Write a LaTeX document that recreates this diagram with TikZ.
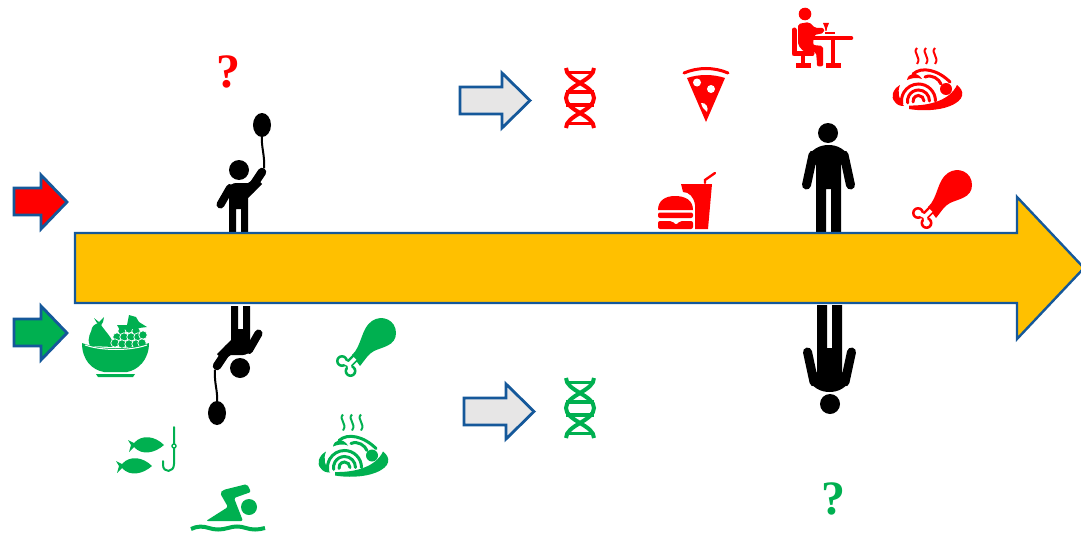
\documentclass[tikz,border=0pt]{standalone}
\usepackage{fontspec}
\setmainfont{Liberation Serif}
\definecolor{barblue}{HTML}{15589A}
\definecolor{baryellow}{HTML}{FFC000}
\definecolor{arrowgrey}{HTML}{E7E6E6}
\definecolor{icgreen}{HTML}{00B050}
\definecolor{icred}{HTML}{FF0000}
\tikzset{
  barrow/.style={draw=barblue,line width=2.8pt,line join=miter},
  limb/.style={black,line cap=round},
  qmark/.style={inner sep=0pt,font=\fontsize{48}{48}\selectfont\bfseries},
  strand/.style={line width=4pt,line cap=butt},
}
% ---- icons, drawn in the coordinates of their red copies; colour "ic"
\newcommand{\ChickenIcon}{%
  \fill[ic] (928,207) .. controls (938,198) and (937,180) .. (948,173)
     .. controls (958,166) and (972,172) .. (972,185)
     .. controls (972,198) and (958,199) .. (950,203)
     .. controls (944,206) and (941,212) .. (936,218) -- cycle;
  \fill[ic] (918,213) circle (6) (926.5,223) circle (6);
  \draw[ic,line width=8pt] (922,219) -- (932,209);
  \fill[white] (918,213) circle (3.4) (926.5,223) circle (3.4);
  \draw[white,line width=3.6pt] (918,213) -- (925,216.5) -- (926.5,223) (925,216.5) -- (931,210.5);
}
\newcommand{\PastaIcon}{%
  \fill[ic] (900,85) .. controls (893,89) and (890,97) .. (895,102) .. controls (897,105) and (900,106) .. (904,106) .. controls (899,100) and (897,92) .. (900,85) -- cycle;
  \fill[ic] (909,105.5) .. controls (930,106) and (950,100) .. (957,85) .. controls (965,91) and (965,100) .. (950,106) .. controls (938,111) and (920,111) .. (909,109) -- cycle;
  \foreach \r in {5.5,11,17}{
    \draw[ic,line width=3pt,line cap=round] (918.5+\r,101) arc (0:-190:\r);
  }
  \draw[ic,line width=3pt,line cap=round] (913,74) .. controls (922,66) and (938,70) .. (950,82);
  \draw[ic,line width=3pt,line cap=round] (925,77) .. controls (932,74) and (939,79) .. (941,84);
  \fill[ic] (907,80) .. controls (908,73) and (917,71) .. (922,79) .. controls (917,77) and (912,78) .. (907,80) -- cycle;
  \fill[ic] (946,89) circle (6);
  \foreach \x in {917,926,935}{
    \draw[ic,line width=2pt] (\x,48) .. controls (\x-5,53) and (\x+5,57) .. (\x,64);
  }
}
\newcommand{\DnaIcon}{%
  \draw[ic,strand] (594,68) .. controls (594,81) and (566,85) .. (566,98) .. controls (566,111) and (594,115) .. (594,128);
  \draw[ic,strand] (566,68) .. controls (566,81) and (594,85) .. (594,98) .. controls (594,111) and (566,115) .. (566,128);
  \draw[ic,line width=3.6pt] (568,72.5) -- (592,72.5) (566,92) -- (594,92) (566,105) -- (594,105) (568,123.5) -- (592,123.5);
}
\newcommand{\PersonRight}{%
  \fill (828,133) circle (10);
  \fill (816,232) -- (816,165) -- (808,160) .. controls (810,149) and (820,145) .. (828.5,145)
     .. controls (837,145) and (847,149) .. (849,160) -- (841,165) -- (841,232) -- (831,232) -- (831,189) -- (826,189) -- (826,232) -- cycle;
  \draw[limb,line width=9pt] (813,155) -- (806.5,185);
  \draw[limb,line width=9pt] (844,155) -- (850.5,185);
}
\newcommand{\PersonBalloon}{%
  \fill (239,170) circle (10);
  \fill (229,232) -- (229,190) .. controls (229,186) and (232,183) .. (236,183) -- (248,183) -- (256,178) -- (262,184) -- (248,198)
     -- (248,232) -- (241,232) -- (241,209) -- (236,209) -- (236,232) -- cycle;
  \draw[limb,line width=8pt] (230,188) -- (220.5,204.5);
  \draw[limb,line width=8.5pt] (250,190) -- (262,172);
  \fill (262,125) ellipse (9 and 12);
  \draw[line width=2pt] (262,136) .. controls (261,147) and (265,155) .. (264,168);
}
\begin{document}
\begin{tikzpicture}[x=1pt,y=-1pt]
\useasboundingbox (0,0) rectangle (1081,535);
\clip (0,0) rectangle (1081,535);

% question marks
\node[qmark,text=icred] (q1) at (228,72) {?};
\node[qmark,text=icgreen] (q2) at (833,499) {?};

% people, upper and their turned copies below the bar
\PersonBalloon
\begin{scope}[shift={(479,538)},xscale=-1,yscale=-1]
  \PersonBalloon
\end{scope}
\PersonRight
\begin{scope}[shift={(1658,537)},xscale=-1,yscale=-1]
  \PersonRight
\end{scope}

% the bar
\draw[barrow,line width=2.4pt,fill=baryellow] (75,233) -- (1017,233) -- (1017,197) -- (1084,268) -- (1017,339) -- (1017,303) -- (75,303) -- cycle;

% side arrows
\draw[barrow,fill=icred] (14,188) -- (41,188) -- (41,175) -- (67,202) -- (41,229) -- (41,215) -- (14,215) -- cycle;
\draw[barrow,fill=icgreen] (14,319) -- (41,319) -- (41,306) -- (67,333) -- (41,360) -- (41,346) -- (14,346) -- cycle;
\draw[barrow,fill=arrowgrey] (460,87) -- (502,87) -- (502,73) -- (530,100.5) -- (502,128) -- (502,114) -- (460,114) -- cycle;
\draw[barrow,fill=arrowgrey] (464,398) -- (506,398) -- (506,384) -- (534,411.5) -- (506,439) -- (506,425) -- (464,425) -- cycle;

% red icons
\colorlet{ic}{icred}
\DnaIcon
\ChickenIcon
\PastaIcon
% pizza
\fill[ic] (687,78) .. controls (699,74) and (713,74) .. (725,78) -- (706,122) -- cycle;
\draw[ic,line width=3pt,line cap=round] (684,73) .. controls (698,67) and (714,67) .. (728,73);
\fill[white] (697,82.5) circle (4) (711,89) circle (4);
\fill[white] (701,103) .. controls (706,102) and (709,108) .. (707,112) .. controls (704,110) and (702,107) .. (701,103) -- cycle;
% burger and drink
\fill[ic] (681,184) -- (712,184) -- (708,229) -- (695,229) -- (695,205) .. controls (694,197) and (689,192) .. (683,192) -- cycle;
\draw[ic,line width=2.4pt,line cap=round] (705,183) -- (705,180) -- (715,173);
\fill[ic] (658,210) .. controls (658,200) and (666,196) .. (675,196) .. controls (685,196) and (693,200) .. (693,210) -- cycle;
\fill[ic,rounded corners=2pt] (658,212.5) rectangle (693,218);
\fill[ic,rounded corners=2pt] (658,221) -- (672,221) -- (676,225) -- (680,221) -- (693,221) -- (693,229) -- (658,229) -- cycle;
% diner
\fill[ic] (805,14) circle (6.3);
\draw[ic,line width=4.6pt,line cap=round] (813,38) -- (851,38);
\draw[ic,line width=4.6pt] (833,38) -- (833,65);
\fill[ic] (826,63) rectangle (841,68);
\draw[ic,line width=5pt,line cap=round,line join=round] (794,30) -- (794,54) -- (812,54);
\draw[ic,line width=4.6pt] (803,54) -- (803,65);
\fill[ic] (796,63) rectangle (811,68);
\fill[ic,rounded corners=2pt] (798,24) -- (809,22) -- (815,28) -- (824,28) -- (824,33) -- (814,35) -- (813,45) -- (823,46) -- (823,63) .. controls (823,67) and (817,67) .. (817,63) -- (816,52) -- (804,52) -- (798,45) -- cycle;
\fill[ic] (823,23) -- (829,23) -- (827,28) -- (826.5,31) -- (825.5,31) -- (825,28) -- cycle;
\fill[ic] (825,32) rectangle (835,34);

% green icons
\colorlet{ic}{icgreen}
\begin{scope}[yshift=-310pt]\DnaIcon\end{scope}
\begin{scope}[shift={(-576,148)}]\ChickenIcon\end{scope}
\begin{scope}[shift={(-574,366.5)}]\PastaIcon\end{scope}

% fruit bowl
\fill[ic] (94,318) -- (99,322) -- (104,317) -- (103,322) -- (100,327) -- (97,323) -- cycle;
\fill[ic] (100,323) .. controls (104,331) and (113,337) .. (114,347) -- (90,346) .. controls (86,337) and (92,332) .. (92,328) .. controls (93,325) and (97,323) .. (100,323) -- cycle;
\foreach \cx/\cy in {122/331, 129/329, 136/331, 117/337, 124/337, 131/337, 138/337, 143/335, 115/343, 122/344, 129/344, 136/344, 142/343}{
  \fill[ic,draw=white,line width=0.7pt] (\cx,\cy) circle (4.2);
}
\fill[ic] (117,325) -- (127,325) -- (129,315) -- (136,317) -- (139,322) -- (147,327) -- (139,328) -- (133,329) -- (120,330) -- cycle;
\fill[ic] (82,343) .. controls (100,350) and (130,350) .. (149,343) .. controls (149,360) and (138,370) .. (127,372) -- (104,372) .. controls (92,370) and (82,360) .. (82,343) -- cycle;
\draw[white,line width=1pt] (85,345) .. controls (102,351) and (130,351) .. (147,345);
\fill[ic] (96,374) -- (135,374) -- (133,377) -- (98,377) -- cycle;

% fishes and hook
\fill[ic] (128,440) -- (134,443) .. controls (142,434) and (155,436) .. (164,445) .. controls (155,453) and (142,456) .. (134,447) -- (129,452) -- (131,445) -- cycle;
\fill[ic] (116,461) -- (122,464) .. controls (130,455) and (143,457) .. (152,466) .. controls (143,474) and (130,477) .. (122,468) -- (117,473) -- (119,466) -- cycle;
\draw[ic,line width=2pt,line cap=round] (174,427) -- (174,464) .. controls (174,473) and (163,473) .. (163,465) -- (163,461);
\draw[ic,line width=1.4pt,fill=white] (174,446) circle (2);

% swimmer
\fill[ic] (249,507) circle (8);
\fill[ic,rounded corners=2pt] (247,484) -- (251,492) -- (234,498) -- (243,521) -- (206,521) -- (228,507) -- (220,493) -- (223,490) -- cycle;
\draw[ic,line width=4pt] (191,529) .. controls (197,526) and (203,526) .. (209,528) .. controls (215,530) and (221,530) .. (228,528) .. controls (234,526) and (240,526) .. (246,528) .. controls (252,530) and (258,530) .. (265,528);
\end{tikzpicture}
\end{document}
